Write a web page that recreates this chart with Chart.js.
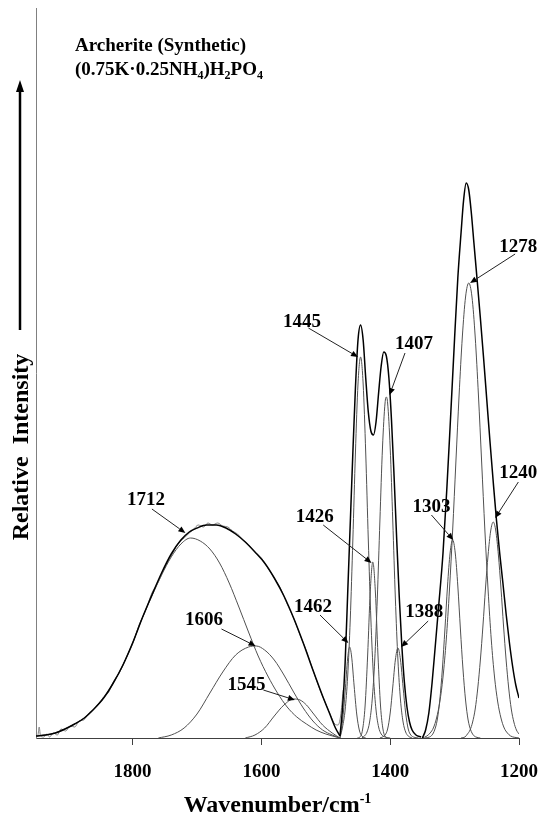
<!DOCTYPE html>
<html>
<head>
<meta charset="utf-8">
<script src="https://cdn.jsdelivr.net/npm/chart.js@4.4.0/dist/chart.umd.min.js"></script>
<style>
  body { margin: 0; background: #fff; }
  canvas { display: block; }
</style>
</head>
<body>
<canvas id="myChart" width="544" height="820"></canvas>
<script>
// x tick labels, wavenumber in cm-1
var tick_values = [1200, 1400, 1600, 1800];

// measured spectrum (grey, noisy), 1950-1478 region
var spec_wn = [1950, 1947, 1945, 1943, 1938, 1933, 1929, 1923, 1917, 1911, 1904, 1897, 1890, 1883, 1876, 1868, 1860, 1852, 1845, 1837, 1830, 1820, 1810, 1800, 1790, 1780, 1770, 1760, 1750, 1740, 1730, 1720, 1712, 1705, 1698, 1690, 1683, 1676, 1668, 1660, 1652, 1645, 1637, 1630, 1620, 1610, 1600, 1590, 1580, 1570, 1560, 1550, 1540, 1530, 1520, 1510, 1500, 1492, 1486, 1481, 1477, 1473];
var spec_int = [1, 3, 11, 2, 1, 4, 1, 5, 3, 9, 7, 12, 11, 17, 18, 25, 29, 35, 41, 46, 56, 66, 80, 94, 113, 127, 145, 156, 171, 182, 194, 200, 205, 209, 213, 211, 215, 213, 215, 212, 211, 207, 204, 199, 193, 186, 180, 170, 160, 149, 134, 120, 103, 87, 68, 50, 34, 22, 14, 13, 22, 48];

// fitted envelopes, one per fitted region
var env1_wn = [1950, 1935, 1920, 1905, 1890, 1875, 1860, 1845, 1830, 1815, 1800, 1785, 1770, 1755, 1740, 1725, 1712, 1700, 1685, 1670, 1655, 1640, 1625, 1610, 1595, 1580, 1565, 1550, 1535, 1520, 1505, 1495, 1485, 1478];
var env1_int = [2, 3, 5, 9, 14, 20, 29, 40, 55, 73, 95, 120, 143, 165, 184, 198, 206, 210, 213, 213, 210, 204, 196, 186, 175, 160, 142, 120, 95, 68, 42, 26, 10, 2];

var env2_wn = [1478, 1474, 1470, 1466, 1462, 1458, 1454, 1450, 1446, 1442, 1438, 1434, 1430, 1426, 1422, 1418, 1414, 1410, 1406, 1402, 1398, 1394, 1390, 1386, 1382, 1378, 1374, 1370, 1366, 1360, 1352];
var env2_int = [2, 30, 75, 145, 215, 285, 350, 398, 413, 398, 360, 326, 307, 303, 316, 345, 372, 386, 382, 360, 318, 262, 200, 142, 93, 56, 31, 16, 8, 3, 1];

var env3_wn = [1350, 1345, 1340, 1335, 1330, 1325, 1318, 1312, 1307, 1300, 1295, 1290, 1286, 1282, 1278, 1274, 1270, 1265, 1260, 1255, 1250, 1245, 1240, 1235, 1230, 1225, 1220, 1215, 1210, 1205, 1200];
var env3_int = [0, 8, 25, 55, 92, 130, 185, 250, 311, 400, 460, 505, 538, 555, 548, 525, 495, 458, 420, 380, 338, 296, 256, 218, 185, 155, 124, 96, 72, 53, 40];

// component bands
var b1712_wn = [1950, 1935, 1920, 1905, 1890, 1875, 1860, 1845, 1830, 1815, 1800, 1785, 1770, 1755, 1740, 1725, 1710, 1695, 1680, 1665, 1650, 1635, 1620, 1605, 1590, 1575, 1560, 1545, 1530, 1515, 1500, 1478];
var b1712_int = [2, 3, 5, 9, 14, 20, 29, 40, 55, 73, 95, 120, 142, 163, 181, 194, 200, 197, 189, 175, 155, 131, 106, 82, 62, 45, 31, 21, 14, 8, 4, 0];

var b1606_wn = [1760, 1740, 1720, 1700, 1680, 1660, 1640, 1620, 1608, 1595, 1580, 1565, 1550, 1535, 1520, 1505, 1490, 1478];
var b1606_int = [0, 3, 10, 24, 45, 66, 83, 91, 92, 88, 78, 63, 46, 30, 17, 8, 3, 0];

var b1545_wn = [1625, 1610, 1595, 1580, 1565, 1550, 1540, 1530, 1520, 1505, 1490, 1478];
var b1545_int = [0, 3, 10, 22, 33, 39, 38, 33, 25, 13, 5, 0];

var b1462_wn = [1478, 1474, 1470, 1466, 1463, 1460, 1456, 1452, 1448, 1444, 1438];
var b1462_int = [0, 17, 46, 80, 91, 82, 52, 24, 8, 2, 0];

var b1445_wn = [1478, 1474, 1470, 1466, 1462, 1458, 1454, 1450, 1446, 1442, 1438, 1434, 1430, 1426, 1422, 1418, 1414, 1408, 1400];
var b1445_int = [0, 11, 28, 62, 119, 198, 285, 354, 381, 354, 285, 198, 119, 62, 28, 11, 4, 1, 0];

var b1426_wn = [1451, 1447, 1443, 1439, 1435, 1431, 1427, 1423, 1419, 1415, 1411, 1407, 1403];
var b1426_int = [0, 1, 8, 32, 83, 146, 176, 146, 83, 32, 8, 1, 0];

var b1407_wn = [1444, 1440, 1436, 1432, 1428, 1424, 1420, 1416, 1412, 1408, 1406, 1404, 1400, 1396, 1392, 1388, 1384, 1380, 1376, 1372, 1366];
var b1407_int = [0, 2, 6, 16, 38, 78, 140, 217, 290, 335, 341, 335, 290, 217, 140, 78, 38, 16, 6, 2, 0];

var b1388_wn = [1416, 1412, 1408, 1404, 1400, 1396, 1392, 1388, 1384, 1380, 1376, 1372, 1368, 1364, 1356];
var b1388_int = [0, 1, 3, 9, 25, 51, 78, 90, 78, 51, 25, 9, 3, 1, 0];

var b1303_wn = [1346, 1339, 1335, 1331, 1327, 1323, 1319, 1315, 1311, 1307, 1303, 1299, 1295, 1291, 1287, 1283, 1279, 1275, 1271, 1267, 1260];
var b1303_int = [0, 1, 3, 8, 18, 38, 69, 109, 152, 185, 198, 185, 152, 109, 69, 38, 18, 8, 3, 1, 0];

var b1278_wn = [1350, 1343, 1338, 1333, 1328, 1323, 1318, 1313, 1308, 1303, 1298, 1293, 1288, 1283, 1278, 1273, 1268, 1263, 1258, 1253, 1248, 1243, 1238, 1233, 1228, 1223, 1218, 1213, 1200];
var b1278_int = [0, 2, 5, 10, 20, 36, 61, 98, 148, 208, 276, 343, 401, 441, 455, 441, 401, 343, 276, 208, 148, 98, 61, 36, 20, 10, 5, 2, 0];

var b1240_wn = [1290, 1284, 1280, 1276, 1272, 1268, 1264, 1260, 1256, 1252, 1248, 1244, 1240, 1236, 1232, 1228, 1224, 1220, 1216, 1212, 1208, 1204, 1200];
var b1240_int = [0, 1, 4, 8, 16, 29, 50, 78, 112, 150, 183, 207, 216, 207, 183, 150, 112, 78, 50, 29, 16, 8, 4];

// band labels: text, label (wn, int), arrow tail (wn, int), arrow tip (wn, int)
var peak_labels = [
  ['1712', 1779, 238, 1770, 229, 1718, 205],
  ['1606', 1689, 118, 1662, 109, 1609, 92],
  ['1545', 1623, 53, 1597, 48, 1548, 38],
  ['1462', 1520, 131, 1509, 123, 1465, 95],
  ['1426', 1517, 221, 1504, 213, 1429, 175],
  ['1445', 1537, 416, 1527, 410, 1450, 381],
  ['1407', 1363, 394, 1377, 385, 1401, 343],
  ['1388', 1347, 126, 1341, 117, 1383, 91],
  ['1303', 1336, 231, 1336, 223, 1302, 198],
  ['1278', 1201, 491, 1206, 484, 1276, 455],
  ['1240', 1201, 265, 1201, 256, 1237, 220]
];

var SERIF = '"Liberation Serif", "Times New Roman", serif';

function pts(wn, ints) {
  return wn.map(function (w, i) { return { x: w, y: ints[i] }; });
}

function line(wn, ints, color, width) {
  return {
    data: pts(wn, ints),
    showLine: true,
    borderColor: color,
    borderWidth: width,
    pointRadius: 0,
    fill: false,
    cubicInterpolationMode: 'monotone'
  };
}

function arrow(ctx, x0, y0, x1, y1) {
  var a = Math.atan2(y1 - y0, x1 - x0);
  var len = 7, half = 3;
  ctx.beginPath();
  ctx.moveTo(x0, y0);
  ctx.lineTo(x1 - len * Math.cos(a), y1 - len * Math.sin(a));
  ctx.stroke();
  ctx.beginPath();
  ctx.moveTo(x1, y1);
  ctx.lineTo(x1 - len * Math.cos(a) + half * Math.sin(a), y1 - len * Math.sin(a) - half * Math.cos(a));
  ctx.lineTo(x1 - len * Math.cos(a) - half * Math.sin(a), y1 - len * Math.sin(a) + half * Math.cos(a));
  ctx.closePath();
  ctx.fill();
}

// draws runs of [text, size, yOffset] one after another
function runs(ctx, parts, x, y) {
  parts.forEach(function (p) {
    ctx.font = 'bold ' + p[1] + 'px ' + SERIF;
    ctx.fillText(p[0], x, y + p[2]);
    x += ctx.measureText(p[0]).width;
  });
  return x;
}

var annotations = {
  id: 'annotations',
  afterDraw: function (chart) {
    var ctx = chart.ctx, xs = chart.scales.x, ys = chart.scales.y;
    ctx.save();
    ctx.fillStyle = '#000';
    ctx.strokeStyle = '#222';
    ctx.lineWidth = 1;

    // band labels with arrows
    ctx.font = 'bold 19px ' + SERIF;
    ctx.textAlign = 'center';
    ctx.textBaseline = 'middle';
    peak_labels.forEach(function (l) {
      ctx.fillText(l[0], xs.getPixelForValue(l[1]), ys.getPixelForValue(l[2]));
      arrow(ctx, xs.getPixelForValue(l[3]), ys.getPixelForValue(l[4]),
        xs.getPixelForValue(l[5]), ys.getPixelForValue(l[6]));
    });

    // sample name
    ctx.textAlign = 'left';
    ctx.textBaseline = 'alphabetic';
    runs(ctx, [['Archerite (Synthetic)', 19, 0]], 75, 51);
    runs(ctx, [['(0.75K\u00b70.25NH', 19, 0], ['4', 12, 4], [')H', 19, 0], ['2', 12, 4],
      ['PO', 19, 0], ['4', 12, 4]], 75, 75);

    // x axis title
    ctx.font = 'bold 24px ' + SERIF;
    var w1 = ctx.measureText('Wavenumber/cm').width;
    ctx.font = 'bold 14px ' + SERIF;
    var w2 = ctx.measureText('-1').width;
    var cx = (chart.chartArea.left + chart.chartArea.right) / 2;
    runs(ctx, [['Wavenumber/cm', 24, 0], ['-1', 14, -9]], cx - (w1 + w2) / 2, 812);

    // y axis title and arrow
    ctx.save();
    ctx.translate(28, 447);
    ctx.rotate(-Math.PI / 2);
    ctx.font = 'bold 24px ' + SERIF;
    ctx.textAlign = 'center';
    ctx.fillText('Relative  Intensity', 0, 0);
    ctx.restore();

    ctx.strokeStyle = '#000';
    ctx.lineWidth = 2.5;
    ctx.beginPath();
    ctx.moveTo(20, 330);
    ctx.lineTo(20, 90);
    ctx.stroke();
    ctx.beginPath();
    ctx.moveTo(20, 80);
    ctx.lineTo(16, 92);
    ctx.lineTo(24, 92);
    ctx.closePath();
    ctx.fill();
    ctx.restore();
  }
};

window.onload = function () {
  Chart.defaults.font.family = SERIF;
  var GREY = '#505050';
  const ctx = document.getElementById('myChart');
  const myChart = new Chart(ctx, {
    type: 'scatter',
    data: {
      datasets: [
        line(env1_wn, env1_int, '#000000', 1.5),
        line(env2_wn, env2_int, '#000000', 1.5),
        line(env3_wn, env3_int, '#000000', 1.5),
        line(spec_wn, spec_int, '#808080', 1),
        line(b1712_wn, b1712_int, GREY, 1),
        line(b1606_wn, b1606_int, GREY, 1),
        line(b1545_wn, b1545_int, GREY, 1),
        line(b1462_wn, b1462_int, GREY, 1),
        line(b1445_wn, b1445_int, GREY, 1),
        line(b1426_wn, b1426_int, GREY, 1),
        line(b1407_wn, b1407_int, GREY, 1),
        line(b1388_wn, b1388_int, GREY, 1),
        line(b1303_wn, b1303_int, GREY, 1),
        line(b1278_wn, b1278_int, GREY, 1),
        line(b1240_wn, b1240_int, GREY, 1)
      ]
    },
    options: {
      responsive: false,
      animation: false,
      events: [],
      layout: { padding: { top: 8, right: 25, left: 0, bottom: 0 } },
      plugins: { legend: { display: false }, tooltip: { enabled: false } },
      scales: {
        x: {
          type: 'linear',
          reverse: true,
          min: 1200,
          max: 1950,
          border: { color: '#404040', width: 1 },
          grid: { drawOnChartArea: false, drawTicks: true, tickLength: 7, color: '#404040' },
          ticks: {
            color: '#000',
            padding: 5,
            maxRotation: 0,
            font: { family: SERIF, size: 19, weight: 'bold', lineHeight: '44px' },
            callback: function (v) { return String(v); }
          },
          afterBuildTicks: function (axis) {
            axis.ticks = tick_values.map(function (v) { return { value: v }; });
          },
          afterFit: function (axis) { axis.height = 82; }
        },
        y: {
          min: 0,
          max: 730,
          border: { color: '#808080', width: 1 },
          grid: { display: false },
          ticks: { display: false },
          afterFit: function (axis) { axis.width = 36; }
        }
      }
    },
    plugins: [annotations]
  });
}
</script>
</body>
</html>
